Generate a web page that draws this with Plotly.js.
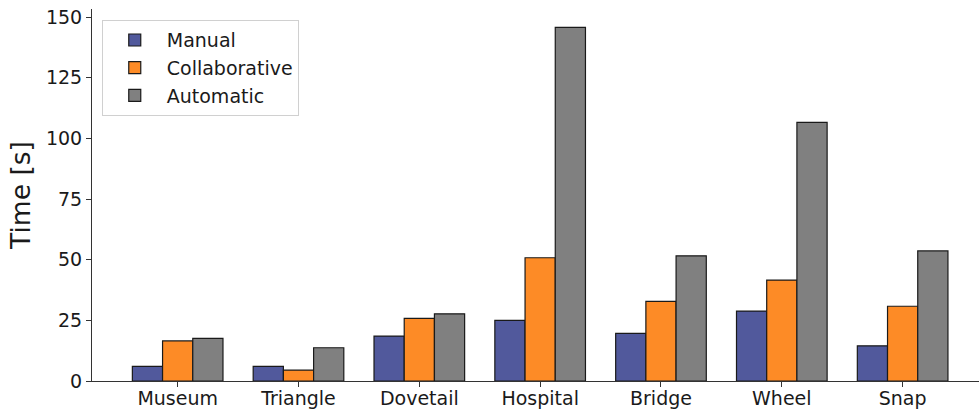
<!DOCTYPE html>
<html>
<head>
<meta charset="utf-8">
<script src="https://cdn.plot.ly/plotly-3.0.1.min.js"></script>
<style>html,body{margin:0;padding:0;background:#fff;}#chart{width:979px;height:412px;}</style>
</head>
<body>
<div id="chart"></div>
<script>
const categories = ["Museum", "Triangle", "Dovetail", "Hospital", "Bridge", "Wheel", "Snap"];
const manual = [6, 6, 18.5, 25, 19.6, 28.8, 14.5];
const collaborative = [16.5, 4.5, 25.8, 50.8, 32.8, 41.6, 30.8];
const automatic = [17.6, 13.7, 27.7, 145.7, 51.6, 106.6, 53.6];
const yTicks = [0, 25, 50, 75, 100, 125, 150];

const lineStyle = {color: "#1a1a1a", width: 1.2};
function mk(name, vals, color) {
  return {
    type: "bar", name: name, x: categories, y: vals, legendgroup: name,
    marker: {color: color, line: lineStyle}
  };
}
const data = [
  mk("Manual", manual, "#51599c"),
  mk("Collaborative", collaborative, "#fd8b26"),
  mk("Automatic", automatic, "#808080")
];
const font = {family: "DejaVu Sans, sans-serif", size: 19, color: "#1a1a1a"};
const layout = {
  width: 979, height: 412,
  margin: {l: 92, r: 0, t: 9, b: 31, pad: 0},
  paper_bgcolor: "#fff", plot_bgcolor: "#fff",
  font: font,
  barmode: "group", bargap: 0.25, bargroupgap: 0,
  showlegend: true,
  legend: {
    x: 0.011, y: 0.97, xanchor: "left", yanchor: "top",
    bgcolor: "rgba(255,255,255,0.8)", bordercolor: "#d0d0d0", borderwidth: 1,
    font: {family: "DejaVu Sans, sans-serif", size: 19, color: "#1a1a1a"},
    tracegroupgap: 5, traceorder: "normal", itemwidth: 54
  },
  xaxis: {
    type: "category", range: [-0.709, 6.632],
    showline: true, linecolor: "#333", linewidth: 1, mirror: false,
    ticks: "outside", ticklen: 5, tickcolor: "#333", showgrid: false, zeroline: false,
    tickfont: font, ticklabelstandoff: -5
  },
  yaxis: {
    range: [0, 153.3], tickvals: yTicks, ticktext: yTicks.map(String),
    showline: true, linecolor: "#333", linewidth: 1, mirror: true,
    ticks: "outside", ticklen: 5, tickcolor: "#333", showgrid: false, zeroline: false,
    tickfont: font,
    title: {text: "Time [s]", font: {family: "DejaVu Sans, sans-serif", size: 26.5, color: "#1a1a1a"}, standoff: 7}
  }
};
Plotly.newPlot("chart", data, layout, {displayModeBar: false, staticPlot: true});
</script>
</body>
</html>
